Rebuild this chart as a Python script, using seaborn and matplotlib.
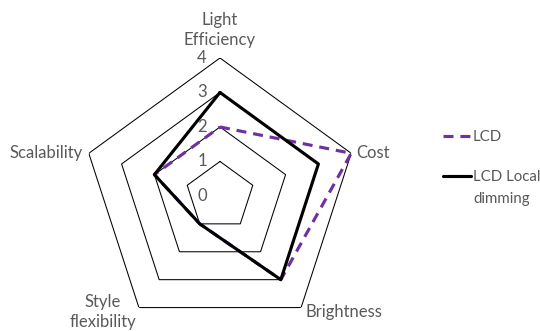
import numpy as np
import pandas as pd
import matplotlib
matplotlib.use("Agg")
import matplotlib.pyplot as plt
import seaborn as sns

# Axis categories (clockwise from the top) and scores per display type
categories = ["Light\nEfficiency", "Cost", "Brightness", "Style\nflexibility", "Scalability"]
lcd = [2, 4, 3, 1, 2]
lcd_local_dimming = [3, 3, 3, 1, 2]
series_names = ["LCD", "LCD Local dimming"]
ring_levels = [0, 1, 2, 3, 4]

sns.set_theme(style="white")
plt.rcParams["font.family"] = ["Lato", "DejaVu Sans"]

TEXT = "#595959"
PURPLE = "#7030A0"
FS = 12
LEG_FS = 10.8

n = len(categories)
theta = np.arange(n) * 2 * np.pi / n
theta_closed = np.append(theta, theta[0] + 2 * np.pi)

rows = []
for name, vals in zip(series_names, [lcd, lcd_local_dimming]):
    closed = list(vals) + [vals[0]]
    for t, v in zip(theta_closed, closed):
        rows.append({"theta": t, "value": v, "series": name})
df = pd.DataFrame(rows)

fig = plt.figure(figsize=(5.4, 3.31), dpi=100)
ax = fig.add_axes([0.1519, -0.009, 0.511, 0.834], projection="polar")
ax.set_theta_offset(np.pi / 2)
ax.set_theta_direction(-1)
ax.set_ylim(0, 4)
ax.grid(False)
ax.spines["polar"].set_visible(False)
ax.set_xticks([])
ax.set_yticks([])
ax.patch.set_alpha(0)

# Pentagonal grid rings
for lvl in ring_levels[1:]:
    ax.plot(theta_closed, [lvl] * len(theta_closed), color="black", lw=0.75, zorder=1)

sns.lineplot(
    data=df, x="theta", y="value", hue="series", style="series",
    hue_order=series_names, style_order=series_names,
    palette={series_names[0]: PURPLE, series_names[1]: "black"},
    dashes={series_names[0]: (3.2, 2.2), series_names[1]: ""},
    sort=False, estimator=None, linewidth=2.25, ax=ax, legend=False, zorder=3,
)
ax.set_xlabel("")
ax.set_ylabel("")

# Radial value labels along the top spoke
for lvl in ring_levels:
    ax.annotate(str(lvl), xy=(0, lvl), xytext=(-18, 0), textcoords="offset pixels",
                ha="center", va="center", fontsize=FS, color=TEXT, annotation_clip=False)

# Category labels around the outer ring
label_style = [
    dict(xytext=(0, 10), ha="center", va="bottom"),
    dict(xytext=(5, 0), ha="left", va="center"),
    dict(xytext=(4, -4), ha="left", va="center"),
    dict(xytext=(-3, -4), ha="right", va="center"),
    dict(xytext=(-6, 0), ha="right", va="center"),
]
for t, lab, st in zip(theta, categories, label_style):
    ax.annotate(lab, xy=(t, 4), textcoords="offset pixels", fontsize=FS, color=TEXT,
                multialignment="center", linespacing=1.3, annotation_clip=False, **st)

# Legend: first word pair on the handle row, the rest wrapped below it
first_lines = []
wrapped = []
for name in series_names:
    words = name.split(" ")
    first_lines.append(" ".join(words[:2]))
    wrapped.append(" ".join(words[2:]))

handles = ax.get_lines()[-2:]
leg = fig.legend(handles, first_lines, loc="upper left", bbox_to_anchor=(0.815, 0.617),
                 frameon=False, fontsize=LEG_FS, handlelength=1.85, handletextpad=0.15,
                 labelspacing=1.75, labelcolor=TEXT, borderaxespad=0, borderpad=0.2)
fig.canvas.draw()
W, H = fig.canvas.get_width_height()
for txt, rest in zip(leg.get_texts(), wrapped):
    if rest:
        bb = txt.get_window_extent()
        fig.text(bb.x0 / W, (bb.y0 - 22) / H, rest, fontsize=LEG_FS, color=TEXT,
                 ha="left", va="bottom")

fig.savefig("out.png", dpi=100, facecolor="white")
